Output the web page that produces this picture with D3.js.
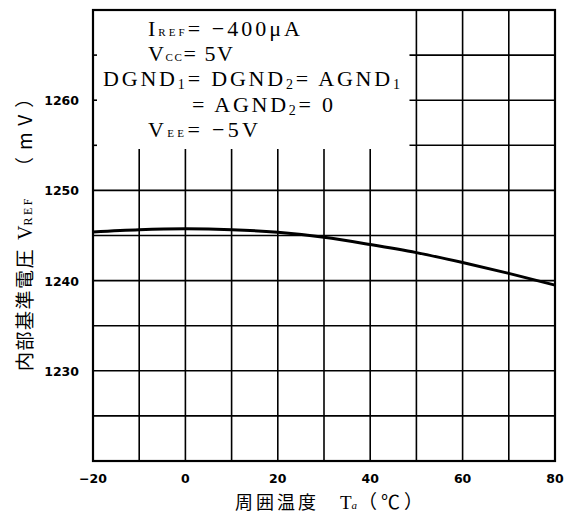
<!DOCTYPE html>
<html lang="ja">

<body style="margin:0;background:#fff">
    <script type='text/javascript' src='https://d3js.org/d3.v7.min.js'></script>
    <script>

        // data
        var temps = [-20, -10, 0, 10, 20, 30, 40, 50, 60, 70, 80];
        var vref = [1245.4, 1245.65, 1245.75, 1245.65, 1245.35, 1244.8, 1244.0, 1243.1, 1242.0, 1240.8, 1239.5];
        var xTicks = [-20, 0, 20, 40, 60, 80];
        var yTicks = [1230, 1240, 1250, 1260];
        // 0 = normal, 1 = small caps subscript, 2 = lowered digit
        var conditions = [
            { x: 148, w: 152, parts: [["I", 0], ["REF", 1], ["= \u2212400\u03bcA", 0]] },
            { x: 148, w: 85, parts: [["V", 0], ["CC", 1], ["= 5V", 0]] },
            { x: 103, w: 297, parts: [["DGND", 0], ["1", 2], ["= DGND", 0], ["2", 2], ["= AGND", 0], ["1", 2]] },
            { x: 192, w: 141, parts: [["= AGND", 0], ["2", 2], ["= 0", 0]] },
            { x: 148, w: 110, parts: [["V", 0], ["EE", 1], ["= \u22125V", 0]] }
        ];

        const W = 587, H = 517;
        const mLeft = 93, mRight = 555, mTop = 10, mBottom = 461;

        const svg = d3.select("body").append("svg")
            .attr("width", W).attr("height", H);

        const x = d3.scaleLinear().domain([-20, 80]).range([mLeft, mRight]);
        const y = d3.scaleLinear().domain([1220, 1270]).range([mBottom, mTop]);

        const grid = svg.append("g").attr("stroke", "#000").attr("stroke-width", 1.6);

        // vertical grid lines (upper left is kept clear for the text box)
        d3.range(-10, 80, 10).forEach(function (t) {
            var y0 = t < 50 ? y(1254.6) : mTop;
            grid.append("line").attr("x1", x(t)).attr("x2", x(t))
                .attr("y1", y0).attr("y2", mBottom);
        });
        // horizontal grid lines
        d3.range(1225, 1270, 5).forEach(function (v) {
            var x0 = v >= 1255 ? x(48.5) : mLeft;
            grid.append("line").attr("x1", x0).attr("x2", mRight)
                .attr("y1", y(v)).attr("y2", y(v));
        });
        // small ticks on left border inside text box
        [1255, 1260, 1265].forEach(function (v) {
            grid.append("line").attr("x1", mLeft).attr("x2", mLeft + 4)
                .attr("y1", y(v)).attr("y2", y(v));
        });

        // frame
        svg.append("rect").attr("x", mLeft).attr("y", mTop)
            .attr("width", mRight - mLeft).attr("height", mBottom - mTop)
            .attr("fill", "none").attr("stroke", "#000").attr("stroke-width", 2.2);

        // curve
        svg.append("path")
            .datum(temps.map(function (t, i) { return [t, vref[i]]; }))
            .attr("fill", "none").attr("stroke", "#000").attr("stroke-width", 3)
            .attr("d", d3.line().curve(d3.curveMonotoneX)
                .x(function (d) { return x(d[0]); })
                .y(function (d) { return y(d[1]); }));

        // tick labels
        var tickFont = "'DejaVu Sans', sans-serif";
        svg.append("g").selectAll("text").data(xTicks).enter().append("text")
            .attr("x", function (d) { return x(d); })
            .attr("y", 483)
            .attr("text-anchor", "middle")
            .attr("font-family", tickFont).attr("font-weight", "bold").attr("font-size", 12.5)
            .text(function (d) { return d < 0 ? "\u2212" + (-d) : d; });

        svg.append("g").selectAll("text").data(yTicks).enter().append("text")
            .attr("x", 79)
            .attr("y", function (d) { return y(d) + 5; })
            .attr("text-anchor", "end")
            .attr("font-family", tickFont).attr("font-weight", "bold").attr("font-size", 12.5)
            .text(function (d) { return d; });

        // condition text box
        var serif = "'Liberation Serif', 'DejaVu Serif', serif";
        conditions.forEach(function (c, i) {
            var t = svg.append("text")
                .attr("x", c.x).attr("y", 36 + i * 25.2)
                .attr("font-family", serif).attr("font-size", 22)
                .attr("textLength", c.w).attr("lengthAdjust", "spacing");
            c.parts.forEach(function (p, j) {
                var s = t.append("tspan").text(p[0]);
                if (p[1] === 1) s.attr("font-size", 11);
                if (p[1] === 2) s.attr("font-size", 14).attr("dy", 3);
                if (p[1] === 0 && j > 0 && c.parts[j - 1][1] === 2) s.attr("dy", -3);
            });
        });

        // axis titles
        var jp = "'Noto Sans CJK JP', sans-serif";
        var xt = svg.append("text").attr("x", 235).attr("y", 509)
            .attr("font-size", 18);
        xt.append("tspan").attr("font-family", jp).attr("letter-spacing", 3).text("周囲温度");
        xt.append("tspan").attr("font-family", serif).attr("dx", 21).attr("font-size", 19).text("T");
        xt.append("tspan").attr("font-family", serif).attr("font-size", 11).attr("font-style", "italic").text("a");
        xt.append("tspan").attr("font-family", jp).attr("dx", 1).attr("font-size", 19).attr("letter-spacing", 4).text("（℃）");

        var yt = svg.append("text")
            .attr("transform", "translate(32,371) rotate(-90)")
            .attr("font-size", 19);
        yt.append("tspan").attr("font-family", jp).attr("letter-spacing", 1.5).text("内部基準電圧");
        yt.append("tspan").attr("font-family", serif).attr("dx", 8).attr("font-size", 20).text("V");
        yt.append("tspan").attr("font-family", serif).attr("font-size", 12).attr("letter-spacing", 2.5).text("REF");
        yt.append("tspan").attr("font-family", jp).attr("dx", 20).attr("letter-spacing", 7).text("（mV）");

    </script>

</body>

</html>
